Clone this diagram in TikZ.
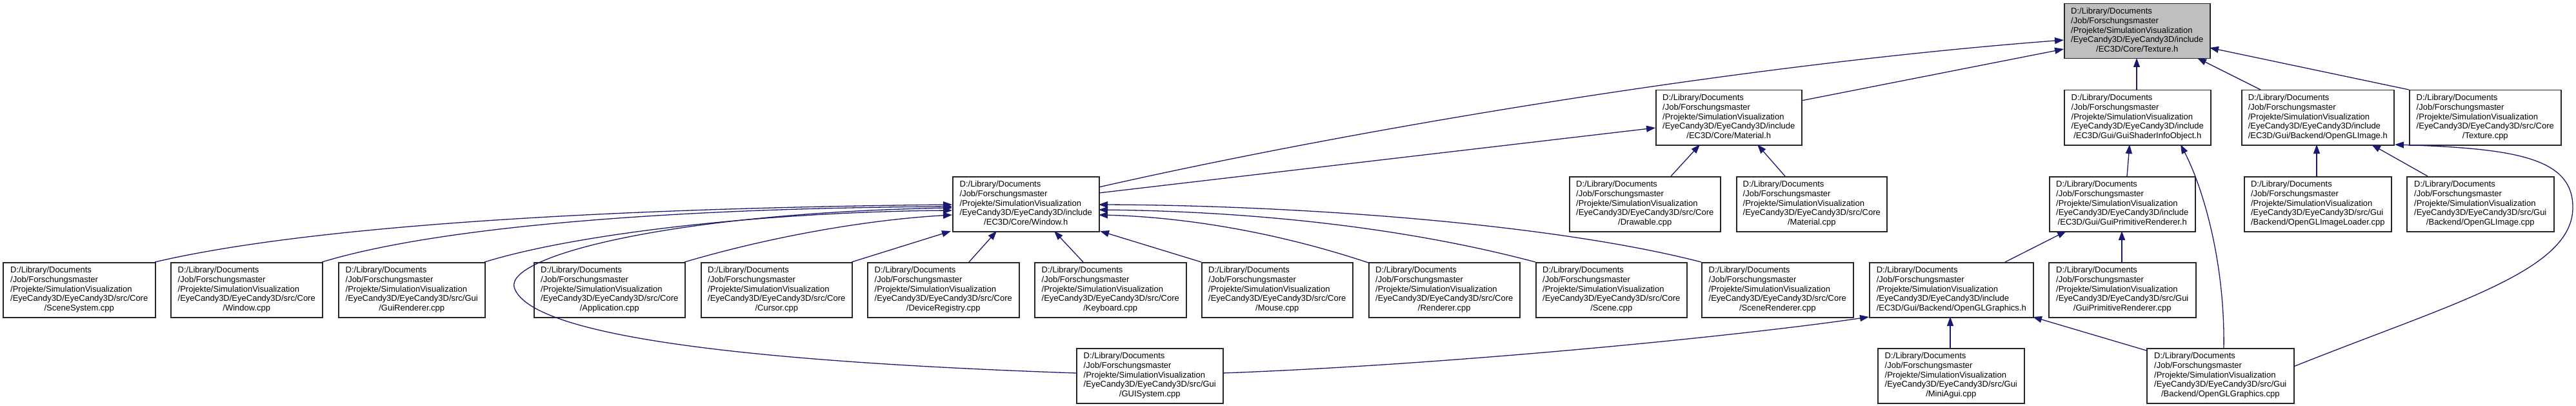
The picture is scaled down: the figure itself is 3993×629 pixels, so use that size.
\documentclass[tikz,border=0pt]{standalone}
\usepackage{fontspec}
\setmainfont{Liberation Sans}
\usetikzlibrary{arrows.meta}
\definecolor{edgeblue}{RGB}{25,25,112}
\definecolor{rootgray}{RGB}{191,191,191}
\newcommand\lbl[2]{\begin{tabular}{@{}l@{}}D:/Library/Documents\\/Job/Forschungsmaster\\/Projekte/SimulationVisualization\\#1\\\multicolumn{1}{@{}c@{}}{#2}\end{tabular}}
\newcommand\hInc{/EyeCandy3D/EyeCandy3D/include}
\newcommand\sCore{/EyeCandy3D/EyeCandy3D/src/Core}
\newcommand\sGui{/EyeCandy3D/EyeCandy3D/src/Gui}
% #1 extra style, #2 name, #3 x, #4 y (north west), #5 width, #6 line 4, #7 line 5
\newcommand\bx[7][]{\node[box,#1,minimum width=#5bp,anchor=north west] (#2) at (#3,#4) {\lbl{#6}{#7}};}
\tikzset{
  box/.style={draw=black!85, line width=1.5bp, fill=white, inner xsep=3bp, inner ysep=0pt,
    minimum height=85bp, font=\fontsize{13bp}{14.7bp}\selectfont},
  root/.style={fill=rootgray},
  dep/.style={draw=edgeblue, line width=1.3bp, -{Triangle[length=14bp,width=10bp]}}
}
\begin{document}
\begin{tikzpicture}[x=1bp,y=-1bp]
\path[fill=white,use as bounding box] (0,0) rectangle (3993,629);
% row 0
\bx[root]{texh}{3199}{5}{226}{\hInc}{/EC3D/Core/Texture.h}
% row 1
\bx{math}{2566}{139}{226}{\hInc}{/EC3D/Core/Material.h}
\bx{gsioh}{3199}{139}{227}{\hInc}{/EC3D/Gui/GuiShaderInfoObject.h}
\bx{oglimgh}{3474}{139}{236}{\hInc}{/EC3D/Gui/Backend/OpenGLImage.h}
\bx{texcpp}{3734}{139}{235}{\sCore}{/Texture.cpp}
% row 2
\bx{winh}{1476}{273}{227}{\hInc}{/EC3D/Core/Window.h}
\bx{drawcpp}{2432}{273}{234}{\sCore}{/Drawable.cpp}
\bx{matcpp}{2691}{273}{233}{\sCore}{/Material.cpp}
\bx{gprh}{3176}{273}{226}{\hInc}{/EC3D/Gui/GuiPrimitiveRenderer.h}
\bx{oglilcpp}{3478}{273}{228}{\sGui}{/Backend/OpenGLImageLoader.cpp}
\bx{oglimgcpp}{3730}{273}{228}{\sGui}{/Backend/OpenGLImage.cpp}
% row 3
\bx{scenesys}{4}{406}{236}{\sCore}{/SceneSystem.cpp}
\bx{wincpp}{264}{406}{235}{\sCore}{/Window.cpp}
\bx{guirend}{524}{406}{227}{\sGui}{/GuiRenderer.cpp}
\bx{app}{827}{406}{234}{\sCore}{/Application.cpp}
\bx{cursor}{1086}{406}{234}{\sCore}{/Cursor.cpp}
\bx{devreg}{1344}{406}{235}{\sCore}{/DeviceRegistry.cpp}
\bx{keyb}{1603}{406}{235}{\sCore}{/Keyboard.cpp}
\bx{mouse}{1862}{406}{234}{\sCore}{/Mouse.cpp}
\bx{rend}{2121}{406}{234}{\sCore}{/Renderer.cpp}
\bx{scene}{2380}{406}{234}{\sCore}{/Scene.cpp}
\bx{scenerend}{2637}{406}{235}{\sCore}{/SceneRenderer.cpp}
\bx{oglgh}{2897}{406}{254}{\hInc}{/EC3D/Gui/Backend/OpenGLGraphics.h}
\bx{gprcpp}{3175}{406}{228}{\sGui}{/GuiPrimitiveRenderer.cpp}
% row 4
\bx{guisys}{1668}{539}{227}{\sGui}{/GUISystem.cpp}
\bx{miniagui}{2910}{539}{227}{\sGui}{/MiniAgui.cpp}
\bx{oglgcpp}{3327}{539}{228}{\sGui}{/Backend/OpenGLGraphics.cpp}

% edges to Texture.h
\draw[dep] ([shift={(227,17)}]winh.north west) .. controls (2100,200) and (2700,100) .. ([shift={(0,57)}]texh.north west);
\draw[dep] ([shift={(226,17)}]math.north west) -- ([shift={(0,71)}]texh.north west);
\draw[dep] ([shift={(113,0)}]gsioh.north west) -- ([shift={(113,85)}]texh.north west);
\draw[dep] ([shift={(30,0)}]oglimgh.north west) -- ([shift={(207,85)}]texh.north west);
\draw[dep] ([shift={(0,0)}]texcpp.north west) -- ([shift={(226,69)}]texh.north west);
% edges to Material.h
\draw[dep] ([shift={(227,26)}]winh.north west) -- ([shift={(0,59)}]math.north west);
\draw[dep] ([shift={(158,0)}]drawcpp.north west) -- ([shift={(69,85)}]math.north west);
\draw[dep] ([shift={(76,0)}]matcpp.north west) -- ([shift={(158,85)}]math.north west);
% edges to GuiShaderInfoObject.h
\draw[dep] ([shift={(121,0)}]gprh.north west) -- ([shift={(102,85)}]gsioh.north west);
\draw[dep] ([shift={(120,0)}]oglgcpp.north west) .. controls (3449,400) and (3412,285) .. ([shift={(181,85)}]gsioh.north west);
% edges to OpenGLImage.h
\draw[dep] ([shift={(113,0)}]oglilcpp.north west) -- ([shift={(117,85)}]oglimgh.north west);
\draw[dep] ([shift={(33,0)}]oglimgcpp.north west) -- ([shift={(202,85)}]oglimgh.north west);
\draw[dep] ([shift={(228,29)}]oglgcpp.north west) .. controls (3800,470) and (3990,420) .. (3988,320)
  .. controls (3987,245) and (3900,230) .. ([shift={(238,85)}]oglimgh.north west);
% edges to GuiPrimitiveRenderer.h
\draw[dep] ([shift={(211,0)}]oglgh.north west) -- ([shift={(27,85)}]gprh.north west);
\draw[dep] ([shift={(114,0)}]gprcpp.north west) -- ([shift={(113,85)}]gprh.north west);
% edges to OpenGLGraphics.h
\draw[dep] ([shift={(113,0)}]miniagui.north west) -- ([shift={(126,85)}]oglgh.north west);
\draw[dep] ([shift={(0,4)}]oglgcpp.north west) -- ([shift={(254,85)}]oglgh.north west);
\draw[dep] ([shift={(227,39)}]guisys.north west) .. controls (2250,565) and (2700,520) .. ([shift={(0,85)}]oglgh.north west);
% edges to Window.h
\draw[dep] ([shift={(0,39)}]guisys.north west) .. controls (1150,560) and (820,520) .. (797,445)
  .. controls (785,395) and (1050,330) .. ([shift={(0,49)}]winh.north west);
\draw[dep] ([shift={(236,0)}]scenesys.north west) .. controls (500,345) and (1000,322) .. ([shift={(0,44)}]winh.north west);
\draw[dep] ([shift={(235,0)}]wincpp.north west) .. controls (700,345) and (1100,322) .. ([shift={(0,47)}]winh.north west);
\draw[dep] ([shift={(227,0)}]guirend.north west) .. controls (900,360) and (1200,328) .. ([shift={(0,53)}]winh.north west);
\draw[dep] ([shift={(234,0)}]app.north west) .. controls (1200,365) and (1350,340) .. ([shift={(0,60)}]winh.north west);
\draw[dep] ([shift={(234,0)}]cursor.north west) -- ([shift={(-2,85)}]winh.north west);
\draw[dep] ([shift={(158,0)}]devreg.north west) -- ([shift={(69,85)}]winh.north west);
\draw[dep] ([shift={(76,0)}]keyb.north west) -- ([shift={(158,85)}]winh.north west);
\draw[dep] ([shift={(0,0)}]mouse.north west) -- ([shift={(229,85)}]winh.north west);
\draw[dep] ([shift={(0,1)}]rend.north west) .. controls (1950,350) and (1800,335) .. ([shift={(227,60)}]winh.north west);
\draw[dep] ([shift={(0,0)}]scene.north west) .. controls (2150,345) and (1900,327) .. ([shift={(227,52)}]winh.north west);
\draw[dep] ([shift={(0,0)}]scenerend.north west) .. controls (2400,345) and (2000,318) .. ([shift={(227,44)}]winh.north west);
\end{tikzpicture}
\end{document}
